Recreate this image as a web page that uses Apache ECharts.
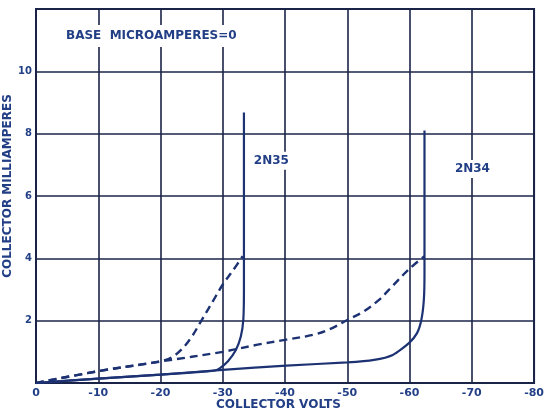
<!DOCTYPE html>
<html>
<head>
<meta charset="utf-8">
<script src="https://cdn.jsdelivr.net/npm/echarts@6/dist/echarts.min.js"></script>
<style>
html,body{margin:0;padding:0;background:#fff;}
#chart{width:547px;height:413px;}
</style>
</head>
<body>
<div id="chart"></div>
<script>
// Collector volts (x) and collector milliamperes (y)
const sol2N35_v = [0, -10, -20, -27.5, -28.7, -29.5, -30.8, -32.1, -32.9, -33.3, -33.4, -33.4];
const sol2N35_ma = [0, 0.14, 0.27, 0.37, 0.4, 0.47, 0.69, 1.06, 1.49, 2.03, 3.0, 8.68];
const sol2N34_v = [0, -10, -20, -30, -40.2, -50, -54.3, -57.3, -59.9, -61.2, -61.9, -62.3, -62.4, -62.4];
const sol2N34_ma = [0, 0.14, 0.27, 0.42, 0.56, 0.66, 0.74, 0.9, 1.28, 1.6, 2.03, 2.68, 3.54, 8.1];
const dash2N35_v = [0, -10, -18.5, -20.3, -21.8, -23.3, -24.9, -26.5, -28.4, -30, -31.6, -33.2];
const dash2N35_ma = [0, 0.38, 0.64, 0.71, 0.82, 1.06, 1.45, 1.98, 2.62, 3.16, 3.6, 4.07];
const dash2N34_v = [0, -10, -20, -30, -35.6, -40.2, -44.6, -47.2, -50.1, -52.5, -55, -57.3, -59.9, -62.4];
const dash2N34_ma = [0, 0.38, 0.69, 1.0, 1.23, 1.39, 1.55, 1.73, 2.03, 2.28, 2.65, 3.12, 3.65, 4.07];
const xTicks = [0, -10, -20, -30, -40, -50, -60, -70, -80];
const yTicks = [2, 4, 6, 8, 10];
const curveLabels = [{name: '2N35', v: -37.8, ma: 7.13}, {name: '2N34', v: -70.1, ma: 6.87}];

const pairs = (a, b) => a.map((v, i) => [v, b[i]]);
const ink = '#1d3273';
const gridInk = '#1b2448';
const txt = '#223f86';
const font = '"DejaVu Sans", sans-serif';

const chart = echarts.init(document.getElementById('chart'));
chart.setOption({
  animation: false,
  backgroundColor: '#fff',
  grid: {left: 36, right: 7, top: 9, bottom: 30, show: true, borderColor: gridInk, borderWidth: 2},
  xAxis: {
    type: 'value', min: -80, max: 0, interval: 10, inverse: true,
    axisLine: {show: false}, axisTick: {show: false},
    splitLine: {show: true, lineStyle: {color: gridInk, width: 1.6}},
    axisLabel: {
      color: txt, fontFamily: font, fontSize: 11, fontWeight: 'bold', margin: 5,
      formatter: v => xTicks.includes(v) ? String(v) : ''
    }
  },
  yAxis: {
    type: 'value', min: 0, max: 12, interval: 2,
    axisLine: {show: false}, axisTick: {show: false},
    splitLine: {show: true, lineStyle: {color: gridInk, width: 1.6}},
    axisLabel: {
      color: txt, fontFamily: font, fontSize: 10, fontWeight: 'bold', margin: 4,
      formatter: v => yTicks.includes(v) ? String(v) : ''
    }
  },
  graphic: [
    {type: 'text', left: 60, top: 25, z: 100,
     style: {text: 'BASE  MICROAMPERES=0', fill: txt, font: 'bold 12px ' + font,
             backgroundColor: '#fff', padding: [5, 6, 5, 6]}},
    {type: 'text', left: 216, top: 399, style: {text: 'COLLECTOR VOLTS', fill: txt, font: 'bold 12px ' + font}},
    {type: 'text', x: 8, y: 186, rotation: Math.PI / 2,
     style: {text: 'COLLECTOR MILLIAMPERES', fill: txt, font: 'bold 12px ' + font, align: 'center', verticalAlign: 'middle'}}
  ],
  series: [
    {type: 'line', data: pairs(sol2N34_v, sol2N34_ma), showSymbol: false, smooth: 0.2,
     lineStyle: {color: ink, width: 2.2}},
    {type: 'line', data: pairs(sol2N35_v, sol2N35_ma), showSymbol: false, smooth: 0.2,
     lineStyle: {color: ink, width: 2.2}},
    {type: 'line', data: pairs(dash2N34_v, dash2N34_ma), showSymbol: false, smooth: 0.35,
     lineStyle: {color: ink, width: 2.4, type: [8, 5]}},
    {type: 'line', data: pairs(dash2N35_v, dash2N35_ma), showSymbol: false, smooth: 0.35,
     lineStyle: {color: ink, width: 2.4, type: [8, 5]}},
    {type: 'scatter', data: curveLabels.map(d => ({value: [d.v, d.ma], name: d.name})),
     symbolSize: 0, z: 10, itemStyle: {opacity: 1},
     label: {show: true, position: 'inside', formatter: p => p.name, color: txt, opacity: 1,
             fontFamily: font, fontSize: 12, fontWeight: 'bold',
             backgroundColor: '#fff', padding: [3, 1, 3, 1]}}
  ]
});
</script>
</body>
</html>
